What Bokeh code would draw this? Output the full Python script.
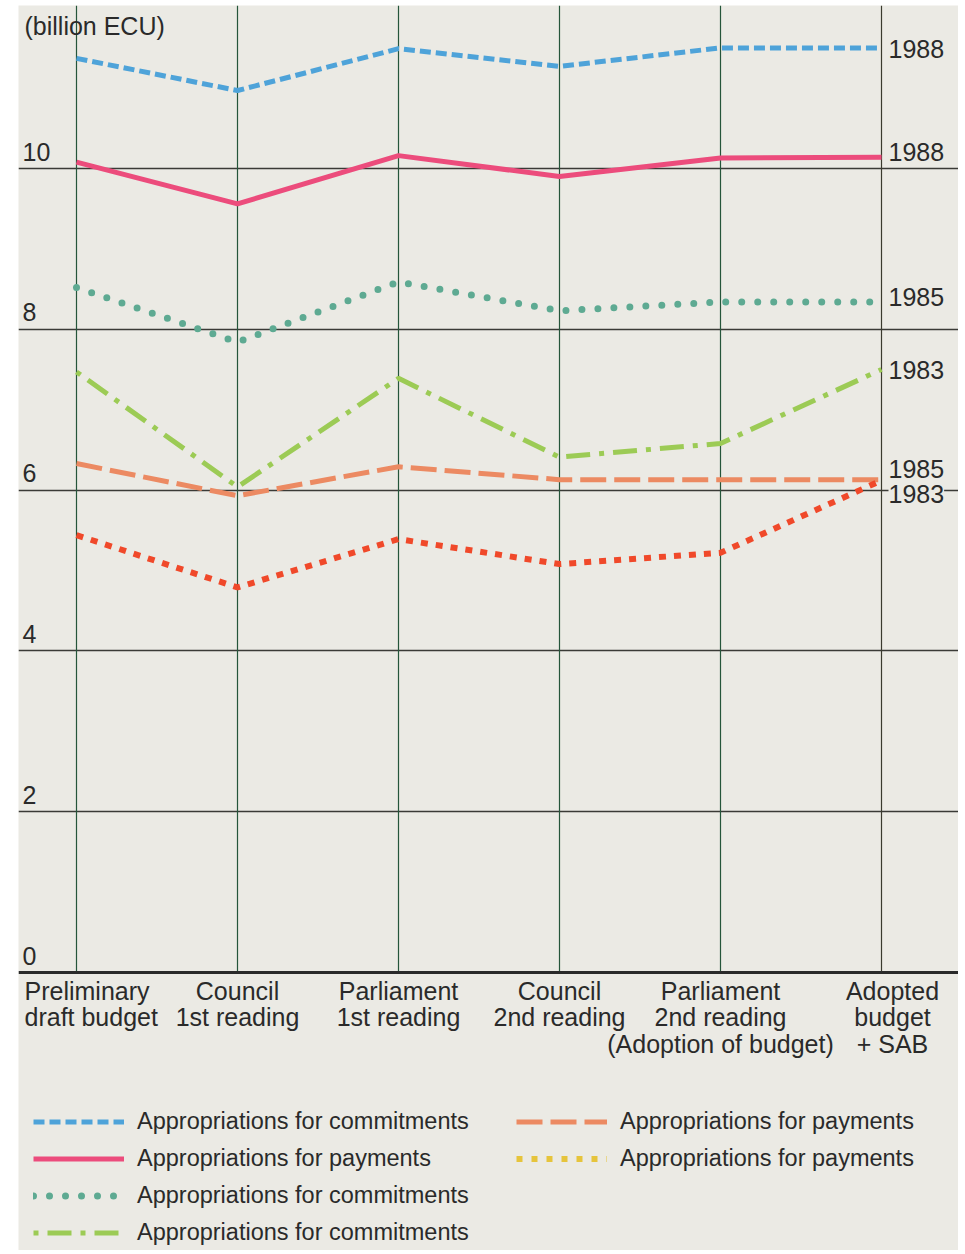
from bokeh.plotting import figure
from bokeh.models import ColumnDataSource, Grid, FixedTicker, Span, Legend, LegendItem
from bokeh.core.properties import value
from bokeh.embed import file_html
from bokeh.resources import INLINE

# ---------------- data ----------------
STAGES = [
    "Preliminary\ndraft budget",
    "Council\n1st reading",
    "Parliament\n1st reading",
    "Council\n2nd reading",
    "Parliament\n2nd reading\n(Adoption of budget)",
    "Adopted\nbudget\n+ SAB",
]
Y_TICKS = [0, 2, 4, 6, 8, 10]
Y_UNIT = "(billion ECU)"

COMMIT_1988 = [11.37, 10.97, 11.49, 11.27, 11.50, 11.50]
PAY_1988 = [10.08, 9.56, 10.16, 9.90, 10.13, 10.14]
COMMIT_1985 = [8.52, 7.84, 8.59, 8.23, 8.34, 8.34]
COMMIT_1983 = [7.47, 6.04, 7.39, 6.41, 6.58, 7.50]
PAY_1985 = [6.33, 5.93, 6.29, 6.13, 6.13, 6.13]
PAY_1983 = [5.44, 4.79, 5.39, 5.08, 5.22, 6.12]

END_YEARS = ["1988", "1988", "1985", "1983", "1985", "1983"]
LEGEND_LABEL_COMMIT = "Appropriations for commitments"
LEGEND_LABEL_PAY = "Appropriations for payments"

# ---------------- layout (page pixels) ----------------
STAGE0_PX, STAGE_STEP_PX = 76, 161
ZERO_PY, UNIT_PY = 972, 80.4
FRAME_L, FRAME_R, FRAME_T, FRAME_B = 18, 958, 5, 1250
TEXT_LIFT = 10  # px, baseline correction for text glyphs


def dx(px):
    return (px - STAGE0_PX) / STAGE_STEP_PX


def dy(py):
    return (ZERO_PY - py) / UNIT_PY


def ty(py):
    return dy(py - TEXT_LIFT)


BG = "#ebeae4"
INK = "#2a2a2a"
FONT = value("Liberation Sans")

p = figure(
    width=FRAME_R, height=FRAME_B,
    x_range=(dx(FRAME_L), dx(FRAME_R)), y_range=(dy(FRAME_B), dy(FRAME_T)),
    output_backend="svg", toolbar_location=None,
    x_axis_location=None, y_axis_location=None,
    min_border=0, min_border_left=FRAME_L, min_border_top=FRAME_T,
    background_fill_color=BG, border_fill_color="white",
)
p.outline_line_color = None
p.grid.visible = False

xs = list(range(len(STAGES)))

# horizontal grid lines
hgrid = Grid(dimension=1, ticker=FixedTicker(ticks=[t for t in Y_TICKS if t > 0]),
             grid_line_color="#3a3a36", grid_line_width=1.4)
p.add_layout(hgrid, "center")
p.add_layout(Span(location=0, dimension="width", line_color=INK, line_width=3))

# vertical stage lines, from 0 to the top
p.segment(x0=xs, y0=[0] * len(xs), x1=xs, y1=[dy(FRAME_T)] * len(xs),
          line_color=["#25553a"] * (len(xs) - 1) + ["#3a3a2e"], line_width=1.2)

# ---------------- series ----------------
r_c88 = p.line(xs, COMMIT_1988, line_color="#4ea3d9", line_width=5, line_dash="11 5")
r_p88 = p.line(xs, PAY_1988, line_color="#ec4c7c", line_width=5)
r_c85 = p.line(xs, COMMIT_1985, line_color="#5eaa92", line_width=7, line_dash="0 16",
               line_cap="round")
r_c83 = p.line(xs, COMMIT_1983, line_color="#9ccb55", line_width=5, line_dash="5 9 24 9")
r_p85 = p.line(xs, PAY_1985, line_color="#ec8a62", line_width=5, line_dash="26 8")
r_p83 = p.line(xs, PAY_1983, line_color="#f0492a", line_width=6, line_dash="7 8")
# legend swatch as printed in the original (yellow)
r_p83_key = p.line(xs, PAY_1983, line_color="#e6c43c", line_width=6, line_dash="6 9",
                   visible=False)

# ---------------- texts ----------------
# y tick labels, inside the plot above the grid lines
p.text(x=[dx(22)] * len(Y_TICKS), y=[dy(ZERO_PY - t * UNIT_PY - 7 - TEXT_LIFT) for t in Y_TICKS],
       text=[str(t) for t in Y_TICKS], text_font=FONT, text_font_size="25px",
       text_color=INK, text_align="left", text_baseline="alphabetic")
p.text(x=[dx(24)], y=[ty(35)], text=[Y_UNIT], text_font=FONT, text_font_size="25px",
       text_color=INK, text_align="left", text_baseline="alphabetic")

# year labels at the right end of each series
ends = [COMMIT_1988[-1], PAY_1988[-1], COMMIT_1985[-1], COMMIT_1983[-1], PAY_1985[-1], PAY_1983[-1]]
baseline_nudge_px = [11, 5, 5, 10, -1, 24]
end_y = [e - (n - TEXT_LIFT) / UNIT_PY for e, n in zip(ends, baseline_nudge_px)]
p.text(x=[dx(888)] * (len(ends) - 1), y=end_y[:-1],
       text=END_YEARS[:-1], text_font=FONT, text_font_size="25px", text_color=INK,
       text_align="left", text_baseline="alphabetic")
p.text(x=[dx(888)], y=end_y[-1:], text=END_YEARS[-1:], text_font=FONT,
       text_font_size="25px", text_color=INK, text_align="left",
       text_baseline="alphabetic", background_fill_color=BG)

# stage labels below the axis
lx, ly, lt, la = [], [], [], []
for i, lab in enumerate(STAGES):
    for j, line in enumerate(lab.split("\n")):
        if i == 0:
            lx.append(dx(24)); la.append("left")
        elif i == len(STAGES) - 1:
            lx.append(i + 11 / STAGE_STEP_PX); la.append("center")
        else:
            lx.append(i); la.append("center")
        ly.append(ty(1000 + 26.5 * j))
        lt.append(line)
p.text(x="x", y="y", text="t", text_align="a",
       source=ColumnDataSource(dict(x=lx, y=ly, t=lt, a=la)),
       text_font=FONT, text_font_size="25px", text_color=INK, text_baseline="alphabetic")

# ---------------- legends ----------------
def make_legend(items, loc):
    lg = Legend(items=items, location=loc, orientation="vertical",
                glyph_width=91, glyph_height=27, label_height=27, spacing=10,
                label_standoff=13, padding=0, margin=0,
                border_line_color=None, background_fill_alpha=0,
                label_text_font="Liberation Sans", label_text_font_size="23.5px",
                label_text_color=INK)
    return lg


leg_left = make_legend([
    LegendItem(label=LEGEND_LABEL_COMMIT, renderers=[r_c88]),
    LegendItem(label=LEGEND_LABEL_PAY, renderers=[r_p88]),
    LegendItem(label=LEGEND_LABEL_COMMIT, renderers=[r_c85]),
    LegendItem(label=LEGEND_LABEL_COMMIT, renderers=[r_c83]),
], (33 - FRAME_L, FRAME_B - 1245.5))
leg_right = make_legend([
    LegendItem(label=LEGEND_LABEL_PAY, renderers=[r_p85]),
    LegendItem(label=LEGEND_LABEL_PAY, renderers=[r_p83_key]),
], (516 - FRAME_L, FRAME_B - 1171.5))
p.add_layout(leg_left, "center")
p.add_layout(leg_right, "center")

open("out.html", "w").write(file_html(p, INLINE))
